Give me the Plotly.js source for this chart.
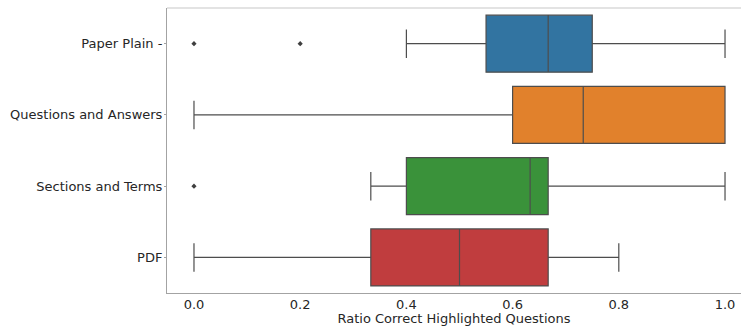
<!DOCTYPE html>
<html>
<head>
<meta charset="utf-8">
<script src="https://cdn.plot.ly/plotly-3.0.1.min.js"></script>
<style>
  html, body { margin: 0; padding: 0; background: #fff; }
  #chart { width: 741px; height: 326px; }
</style>
</head>
<body>
<div id="chart"></div>
<script>
// Interface conditions, top to bottom
const categories = ["Paper Plain", "Questions and Answers", "Sections and Terms", "PDF"];
const tickLabels = ["Paper Plain -", "Questions and Answers", "Sections and Terms", "PDF"];

// Box statistics per condition (ratio of correctly highlighted questions)
const lowerFence = [0.4, 0.0, 0.333, 0.0];
const q1Values = [0.55, 0.6, 0.4, 0.333];
const medians = [0.667, 0.733, 0.633, 0.5];
const q3Values = [0.75, 1.0, 0.667, 0.667];
const upperFence = [1.0, 1.0, 1.0, 0.8];

// Outlying observations
const outlierCats = ["Paper Plain", "Paper Plain", "Sections and Terms"];
const outlierVals = [0.0, 0.2, 0.0];

const colors = ["#3274a1", "#e1812c", "#3a923a", "#c03d3e"];
const edge = "#4d4d4d";

const traces = categories.map((c, i) => ({
  type: "box",
  orientation: "h",
  y: [c],
  lowerfence: [lowerFence[i]],
  q1: [q1Values[i]],
  median: [medians[i]],
  q3: [q3Values[i]],
  upperfence: [upperFence[i]],
  width: 0.8,
  whiskerwidth: 0.5,
  fillcolor: colors[i],
  line: { color: edge, width: 1.2 },
  boxpoints: false,
  hoverinfo: "x",
  showlegend: false
}));

traces.push({
  type: "scatter",
  mode: "markers",
  x: outlierVals,
  y: outlierCats,
  marker: { symbol: "diamond", size: 4, color: "#3f3f3f" },
  showlegend: false,
  hoverinfo: "x"
});

const font = { family: "DejaVu Sans, sans-serif", size: 13, color: "#262626" };

const layout = {
  width: 741,
  height: 326,
  margin: { l: 167, r: 0, t: 8, b: 33 },
  paper_bgcolor: "#fff",
  plot_bgcolor: "#fff",
  font: font,
  boxmode: "overlay",
  xaxis: {
    range: [-0.0508, 1.0301],
    tickvals: [0, 0.2, 0.4, 0.6, 0.8, 1.0],
    tickformat: ".1f",
    showgrid: false,
    zeroline: false,
    showline: true,
    linecolor: "#a3a3a3",
    linewidth: 1,
    ticks: "",
    ticklabelstandoff: -1,
    tickfont: font,
    title: { text: "Ratio Correct Highlighted Questions", font: font, standoff: 0 }
  },
  yaxis: {
    type: "category",
    categoryarray: categories,
    range: [3.5, -0.5],
    tickvals: categories,
    ticktext: tickLabels,
    showgrid: false,
    zeroline: false,
    showline: true,
    linecolor: "#a3a3a3",
    linewidth: 1,
    ticks: "outside",
    ticklen: 2,
    tickcolor: "#a3a3a3",
    ticklabelstandoff: -1,
    tickfont: font
  },
  shapes: [{
    type: "line", xref: "paper", yref: "paper",
    x0: 0, x1: 1, y0: 1, y1: 1,
    line: { color: "#dadada", width: 1.5 }
  }]
};

Plotly.newPlot("chart", traces, layout, { displayModeBar: false, staticPlot: true });
</script>
</body>
</html>
